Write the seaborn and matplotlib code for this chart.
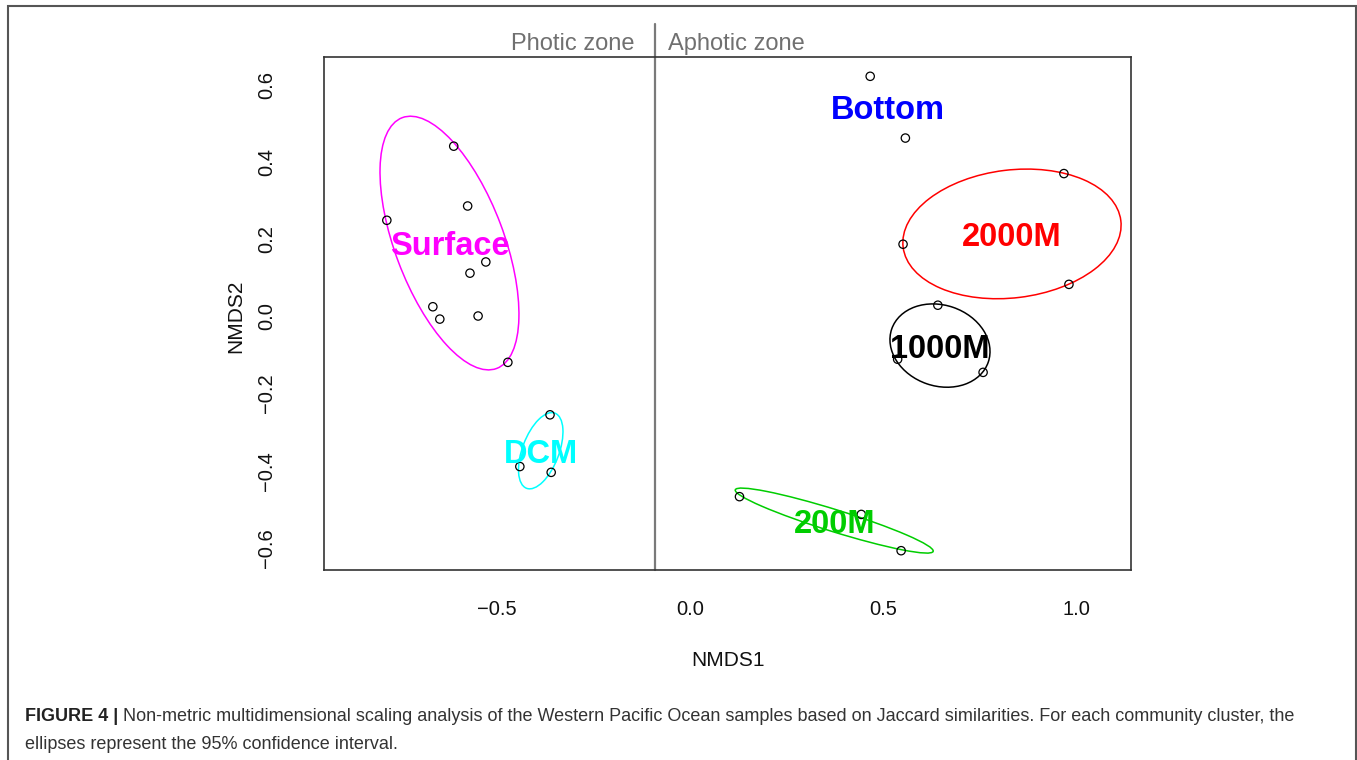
import numpy as np
import pandas as pd
import matplotlib
matplotlib.use("Agg")
import matplotlib.pyplot as plt
import seaborn as sns
from matplotlib.patches import Ellipse, Rectangle

# ---------------- data ----------------
surface_x = [-0.611, -0.575, -0.784, -0.528, -0.569, -0.665, -0.647, -0.548, -0.471]
surface_y = [0.441, 0.286, 0.249, 0.141, 0.112, 0.025, -0.007, 0.001, -0.119]
dcm_x = [-0.362, -0.440, -0.359]
dcm_y = [-0.255, -0.389, -0.404]
m200_x = [0.128, 0.443, 0.546]
m200_y = [-0.467, -0.513, -0.607]
m1000_x = [0.641, 0.537, 0.758]
m1000_y = [0.029, -0.111, -0.145]
m2000_x = [0.967, 0.551, 0.980]
m2000_y = [0.370, 0.187, 0.083]
bottom_x = [0.466, 0.557]
bottom_y = [0.622, 0.462]

groups = ["Surface", "DCM", "200M", "1000M", "2000M", "Bottom"]
group_colors = ["#FF00FF", "#00FFFF", "#00CD00", "#000000", "#FF0000", "#0000FF"]

# 95% confidence ellipses: centre, semi-axes, angle (deg)
ell_groups = ["Surface", "DCM", "200M", "1000M", "2000M"]
ell_cx = [-0.622, -0.386, 0.373, 0.6465, 0.8327]
ell_cy = [0.190, -0.348, -0.529, -0.0756, 0.2137]
ell_a = [0.347, 0.104, 0.268, 0.132, 0.2836]
ell_b = [0.1408, 0.0474, 0.0285, 0.1047, 0.1656]
ell_angle = [110.6, 69.4, -17.3, -19.0, 7.0]

# group label positions
label_x = [-0.622, -0.386, 0.373, 0.6465, 0.8327, 0.512]
label_y = [0.190, -0.348, -0.529, -0.0756, 0.2137, 0.543]

zone_line_x = -0.0905
zone_labels = ["Photic zone", "Aphotic zone"]

xticks = [-0.5, 0.0, 0.5, 1.0]
yticks = [-0.6, -0.4, -0.2, 0.0, 0.2, 0.4, 0.6]
xlim = (-0.9465, 1.1405)
ylim = (-0.657, 0.672)

caption_bold = "FIGURE 4 |"
caption_line1 = (" Non-metric multidimensional scaling analysis of the Western Pacific Ocean "
                 "samples based on Jaccard similarities. For each community cluster, the")
caption_line2 = "ellipses represent the 95% confidence interval."

# ---------------- build long table ----------------
xs = [surface_x, dcm_x, m200_x, m1000_x, m2000_x, bottom_x]
ys = [surface_y, dcm_y, m200_y, m1000_y, m2000_y, bottom_y]
df = pd.concat([pd.DataFrame({"NMDS1": x, "NMDS2": y, "group": g})
                for g, x, y in zip(groups, xs, ys)], ignore_index=True)

# ---------------- style ----------------
sns.set_style("white")
plt.rcParams["font.family"] = ["Liberation Sans", "DejaVu Sans"]

W, H = 1357, 760
fig = plt.figure(figsize=(W / 100, H / 100), dpi=100)
ax = fig.add_axes([324 / W, 1 - 570 / H, 807 / W, 513 / H])

sns.scatterplot(data=df, x="NMDS1", y="NMDS2", ax=ax, marker="o", s=36,
                facecolor="none", edgecolor="black", linewidth=0.9,
                legend=False, zorder=3)

color_of = dict(zip(groups, group_colors))
for g, cx, cy, a, b, ang in zip(ell_groups, ell_cx, ell_cy, ell_a, ell_b, ell_angle):
    ax.add_patch(Ellipse((cx, cy), 2 * a, 2 * b, angle=ang, fill=False,
                         edgecolor=color_of[g], lw=1.1, zorder=2))

for g, lx, ly in zip(groups, label_x, label_y):
    ax.text(lx, ly, g, color=color_of[g], fontsize=23.5, fontweight="bold",
            ha="center", va="center_baseline", zorder=4)

ax.set_xlim(*xlim)
ax.set_ylim(*ylim)
ax.set_xticks(xticks)
ax.set_yticks(yticks)
ax.set_xticklabels([f"{v:.1f}".replace("-", "\u2212") for v in xticks])
ax.set_yticklabels([f"{v:.1f}".replace("-", "\u2212") for v in yticks])

# zone separator line extending above the box
ax.plot([zone_line_x, zone_line_x], [ylim[0], 0.758], color="#7a7a7a", lw=1.6,
        clip_on=False, zorder=1)
ax.annotate(zone_labels[0], xy=(zone_line_x, 0.706), xytext=(-15, 0),
            textcoords="offset points", ha="right", va="center",
            fontsize=17, color="#707070", annotation_clip=False)
ax.annotate(zone_labels[1], xy=(zone_line_x, 0.706), xytext=(9.5, 0),
            textcoords="offset points", ha="left", va="center",
            fontsize=17, color="#707070", annotation_clip=False)

for sp in ax.spines.values():
    sp.set_visible(True)
    sp.set_color("#333333")
    sp.set_linewidth(1.2)

ax.tick_params(axis="both", direction="out", length=7.5, width=1.0,
               color="#333333", labelsize=14.5, labelcolor="#111111")
ax.tick_params(axis="x", pad=14)
ax.tick_params(axis="y", pad=27, labelrotation=90)
for lbl in ax.get_yticklabels():
    lbl.set_va("center")

ax.set_xlabel("NMDS1", fontsize=15, color="#111111", va="center")
ax.set_ylabel("NMDS2", fontsize=15, color="#111111", va="center")
ax.xaxis.set_label_coords((728 - 324) / 807, -(660 - 570) / 513)
ax.yaxis.set_label_coords(-(324 - 236) / 807, (570 - 316) / 513)

# outer frame
fig.patches.append(Rectangle((8 / W, -0.1), (1356 - 8) / W, 1.1 - 6 / H,
                             transform=fig.transFigure, fill=False,
                             edgecolor="#555555", lw=1.5))

# caption
cap_fs = 12.95
t_bold = fig.text(25 / W, 1 - 721 / H, caption_bold, fontsize=cap_fs,
                  fontweight="bold", color="#222222", va="baseline", ha="left")
fig.canvas.draw()
ax.annotate(caption_line1, xy=(1.0, H - 721), xycoords=(t_bold, "figure pixels"),
            va="baseline", ha="left", fontsize=cap_fs, color="#333333",
            annotation_clip=False)
fig.text(25 / W, 1 - 749 / H, caption_line2, fontsize=cap_fs, color="#333333",
         va="baseline", ha="left")

fig.savefig("out.png", dpi=100)
